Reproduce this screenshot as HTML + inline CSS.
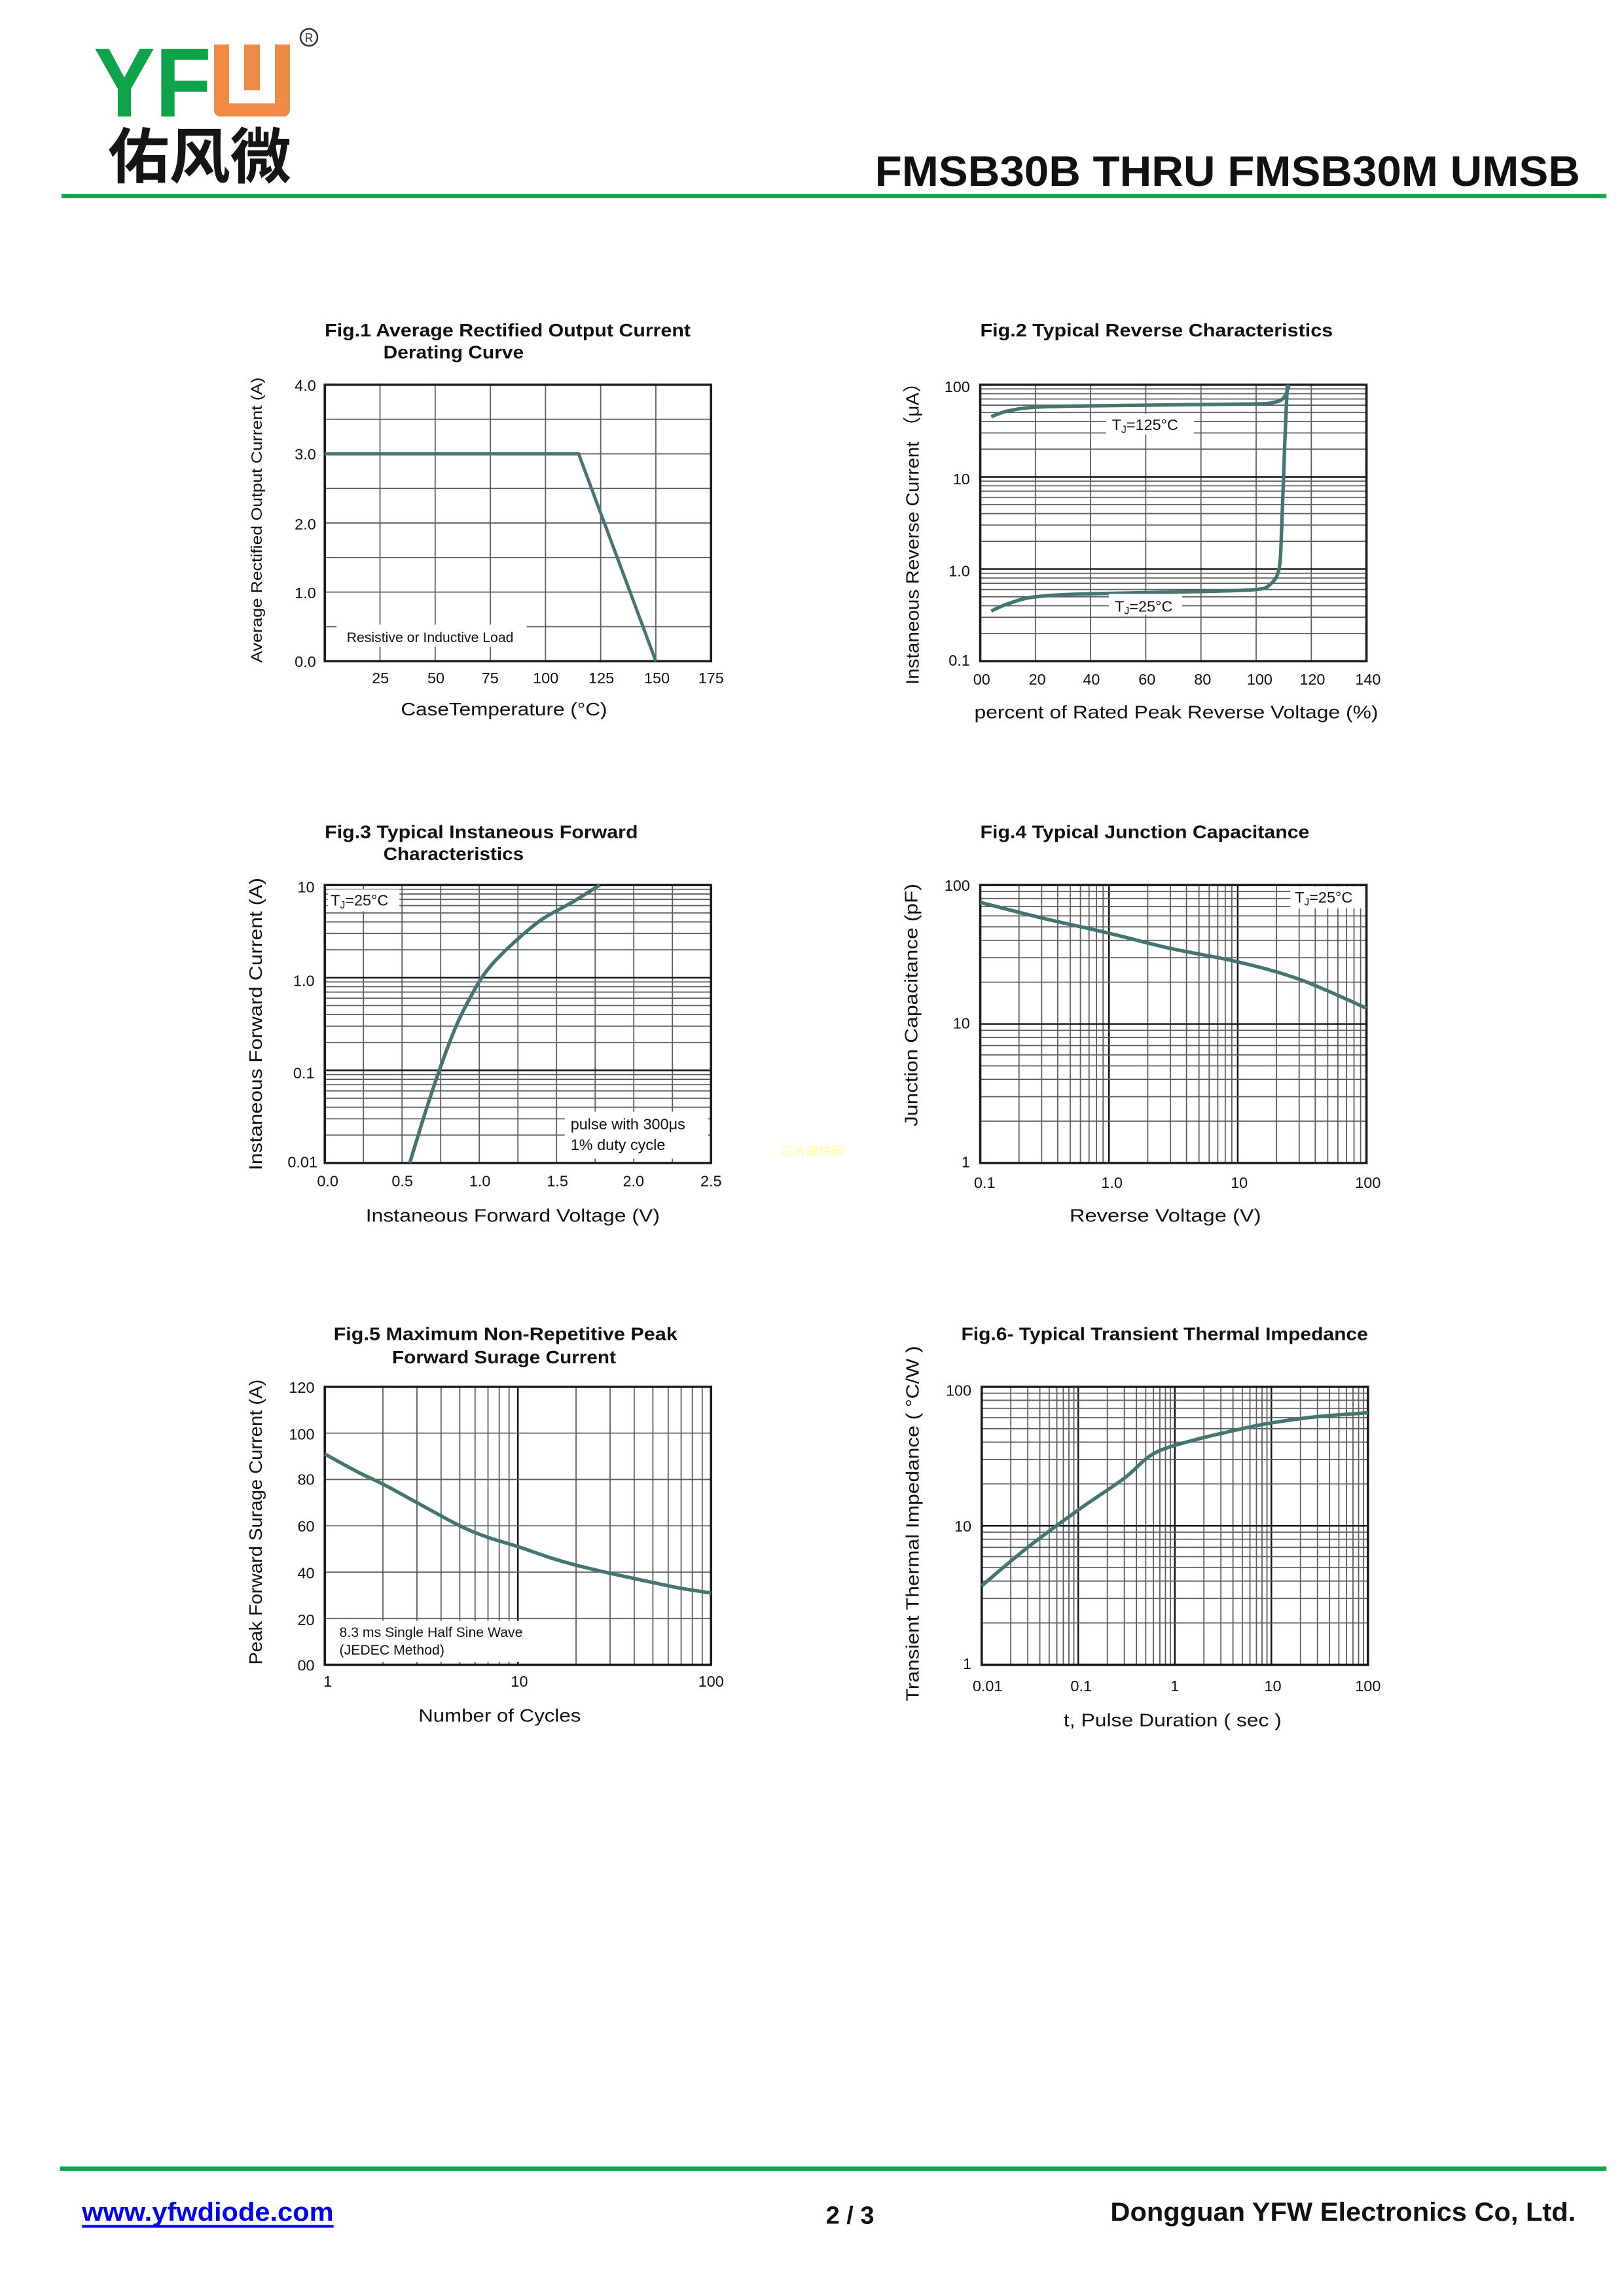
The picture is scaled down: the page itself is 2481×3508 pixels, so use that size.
<!DOCTYPE html>
<html><head><meta charset="utf-8">
<style>
html,body{margin:0;padding:0;background:#fff;}
svg{display:block;}
text{font-family:"Liberation Sans","Noto Sans CJK SC",sans-serif;fill:#111;}
</style></head>
<body>
<svg id="s" xmlns="http://www.w3.org/2000/svg" width="2481" height="3508" viewBox="0 0 2481 3508">
<rect width="2481" height="3508" fill="#fff"/>
<g>
 <text x="143" y="178" font-size="150" font-weight="bold" fill="#0ea34b" style="fill:#0ea34b" textLength="180" lengthAdjust="spacingAndGlyphs">YF</text>
 <rect x="327" y="68" width="116" height="110" rx="10" fill="#ee8a45"/>
 <rect x="327" y="68" width="116" height="12" fill="#ee8a45"/>
 <rect x="350" y="68" width="70" height="90" fill="#fff"/>
 <rect x="373" y="68" width="24" height="70" fill="#ee8a45"/>
 <text x="165" y="272" font-size="92" font-weight="bold" style="fill:#151515;font-family:'Noto Sans CJK SC','WenQuanYi Zen Hei',sans-serif" textLength="280" lengthAdjust="spacingAndGlyphs">佑风微</text>
 <circle cx="472" cy="57" r="13" fill="none" stroke="#333" stroke-width="2.5"/>
 <text x="472" y="64" font-size="18" text-anchor="middle" style="fill:#333">R</text>
</g>
<g transform="scale(2.2351)" id="g">
 <text x="1080" y="127" font-size="29" font-weight="bold" text-anchor="end" textLength="482" lengthAdjust="spacingAndGlyphs">FMSB30B THRU FMSB30M  UMSB</text>
 <rect x="42" y="132.5" width="1056" height="3" fill="#10a650"/>
 <rect x="41" y="1481" width="1057" height="3" fill="#10a650"/>
 <text x="56" y="1518" font-size="18" font-weight="bold" style="fill:#0000ee" textLength="172" lengthAdjust="spacingAndGlyphs">www.yfwdiode.com</text>
 <rect x="56" y="1521" width="172" height="1.8" fill="#0000ee"/>
 <text x="581" y="1520" font-size="17" font-weight="bold" text-anchor="middle">2 / 3</text>
 <text x="1077" y="1518" font-size="18" font-weight="bold" text-anchor="end" textLength="318" lengthAdjust="spacingAndGlyphs">Dongguan YFW Electronics Co, Ltd.</text>

 <g font-size="12.5" font-weight="bold">
  <text x="222" y="230" textLength="250" lengthAdjust="spacingAndGlyphs">Fig.1  Average Rectified Output Current</text>
  <text x="262" y="245" textLength="96" lengthAdjust="spacingAndGlyphs">Derating Curve</text>
  <text x="670" y="230" textLength="241" lengthAdjust="spacingAndGlyphs">Fig.2  Typical Reverse Characteristics</text>
  <text x="222" y="573" textLength="214" lengthAdjust="spacingAndGlyphs">Fig.3  Typical Instaneous Forward</text>
  <text x="262" y="588" textLength="96" lengthAdjust="spacingAndGlyphs">Characteristics</text>
  <text x="670" y="573" textLength="225" lengthAdjust="spacingAndGlyphs">Fig.4  Typical Junction Capacitance</text>
  <text x="228" y="916" textLength="235" lengthAdjust="spacingAndGlyphs">Fig.5  Maximum Non-Repetitive Peak</text>
  <text x="268" y="932" textLength="153" lengthAdjust="spacingAndGlyphs">Forward Surage Current</text>
  <text x="657" y="916" textLength="278" lengthAdjust="spacingAndGlyphs">Fig.6- Typical Transient Thermal Impedance</text>
 </g>
 <g id="grids"></g>
 <g font-size="10.5" text-anchor="end">
  <text x="216" y="267">4.0</text><text x="216" y="314">3.0</text><text x="216" y="362">2.0</text><text x="216" y="409">1.0</text><text x="216" y="456">0.0</text>
  <text x="663" y="268">100</text><text x="663" y="331">10</text><text x="663" y="394">1.0</text><text x="663" y="455">0.1</text>
  <text x="215" y="610">10</text><text x="215" y="674">1.0</text><text x="215" y="737">0.1</text><text x="217" y="798">0.01</text>
  <text x="663" y="609">100</text><text x="663" y="703">10</text><text x="663" y="798">1</text>
  <text x="215" y="952">120</text><text x="215" y="984">100</text><text x="215" y="1015">80</text><text x="215" y="1047">60</text><text x="215" y="1079">40</text><text x="215" y="1111">20</text><text x="215" y="1142">00</text>
  <text x="664" y="954">100</text><text x="664" y="1047">10</text><text x="664" y="1141">1</text>
 </g>
 <g font-size="10.5" text-anchor="middle">
  <text x="260" y="467">25</text><text x="298" y="467">50</text><text x="335" y="467">75</text><text x="373" y="467">100</text><text x="411" y="467">125</text><text x="449" y="467">150</text><text x="486" y="467">175</text>
  <text x="671" y="468">00</text><text x="709" y="468">20</text><text x="746" y="468">40</text><text x="784" y="468">60</text><text x="822" y="468">80</text><text x="861" y="468">100</text><text x="897" y="468">120</text><text x="935" y="468">140</text>
  <text x="224" y="811">0.0</text><text x="275" y="811">0.5</text><text x="328" y="811">1.0</text><text x="381" y="811">1.5</text><text x="433" y="811">2.0</text><text x="486" y="811">2.5</text>
  <text x="673" y="812">0.1</text><text x="760" y="812">1.0</text><text x="847" y="812">10</text><text x="935" y="812">100</text>
  <text x="224" y="1153">1</text><text x="355" y="1153">10</text><text x="486" y="1153">100</text>
  <text x="675" y="1156">0.01</text><text x="739" y="1156">0.1</text><text x="803" y="1156">1</text><text x="870" y="1156">10</text><text x="935" y="1156">100</text>
 </g>
 <g font-size="12.5">
  <text x="274" y="489" textLength="141" lengthAdjust="spacingAndGlyphs">CaseTemperature (°C)</text>
  <text x="666" y="491" textLength="276" lengthAdjust="spacingAndGlyphs">percent of Rated  Peak Reverse Voltage (%)</text>
  <text x="250" y="835" textLength="201" lengthAdjust="spacingAndGlyphs">Instaneous Forward Voltage (V)</text>
  <text x="731" y="835" textLength="131" lengthAdjust="spacingAndGlyphs">Reverse  Voltage (V)</text>
  <text x="286" y="1177" textLength="111" lengthAdjust="spacingAndGlyphs">Number of Cycles</text>
  <text x="727" y="1180" textLength="149" lengthAdjust="spacingAndGlyphs">t, Pulse Duration ( sec )</text>
  <text transform="translate(179,453) rotate(-90)" font-size="10.5" textLength="195" lengthAdjust="spacingAndGlyphs">Average Rectified Output Current (A)</text>
  <text transform="translate(628,468) rotate(-90)" textLength="213" lengthAdjust="spacingAndGlyphs">Instaneous Reverse Current （μA）</text>
  <text transform="translate(179,800) rotate(-90)" textLength="200" lengthAdjust="spacingAndGlyphs">Instaneous Forward Current (A)</text>
  <text transform="translate(627,770) rotate(-90)" textLength="166" lengthAdjust="spacingAndGlyphs">Junction Capacitance (pF)</text>
  <text transform="translate(179,1138) rotate(-90)" textLength="195" lengthAdjust="spacingAndGlyphs">Peak Forward Surage Current (A)</text>
  <text transform="translate(628,1163) rotate(-90)" textLength="243" lengthAdjust="spacingAndGlyphs">Transient Thermal Impedance ( °C/W )</text>
 </g>
 <g id="curves"></g>
 <g font-size="10.5">
  <rect x="230" y="427" width="130" height="15" fill="#fff"/>
  <text x="237" y="439" font-size="9.5">Resistive or Inductive Load</text>
  <rect x="756" y="283" width="60" height="14" fill="#fff"/>
  <text x="760" y="294">T<tspan font-size="7" dy="2">J</tspan><tspan dy="-2">=125°C</tspan></text>
  <rect x="758" y="406" width="50" height="14" fill="#fff"/>
  <text x="762" y="418">T<tspan font-size="7" dy="2">J</tspan><tspan dy="-2">=25°C</tspan></text>
  <rect x="224" y="608" width="49" height="15" fill="#fff"/>
  <text x="226" y="619">T<tspan font-size="7" dy="2">J</tspan><tspan dy="-2">=25°C</tspan></text>
  <rect x="386" y="760" width="98" height="32" fill="#fff"/>
  <text x="390" y="772">pulse with 300μs</text>
  <text x="390" y="786">1% duty cycle</text>
  <text x="534" y="790" font-size="8.5" style="fill:#ffff99">芯片模块网</text>
  <rect x="882" y="606" width="51" height="15" fill="#fff"/>
  <text x="885" y="617">T<tspan font-size="7" dy="2">J</tspan><tspan dy="-2">=25°C</tspan></text>
  <rect x="226" y="1108" width="145" height="28" fill="#fff"/>
  <text x="232" y="1119" font-size="9.5">8.3 ms Single Half Sine Wave</text>
  <text x="232" y="1131" font-size="9.5">(JEDEC Method)</text>
 </g>
</g>
</svg>
<script>
var NS="http://www.w3.org/2000/svg";
var G=document.getElementById("grids"),C=document.getElementById("curves");
function ln(p,x1,y1,x2,y2,w,c){var l=document.createElementNS(NS,"line");l.setAttribute("x1",x1);l.setAttribute("y1",y1);l.setAttribute("x2",x2);l.setAttribute("y2",y2);l.setAttribute("stroke",c);l.setAttribute("stroke-width",w);p.appendChild(l);}
function box(x0,y0,x1,y1){var r=document.createElementNS(NS,"rect");r.setAttribute("x",x0);r.setAttribute("y",y0);r.setAttribute("width",x1-x0);r.setAttribute("height",y1-y0);r.setAttribute("fill","none");r.setAttribute("stroke","#1a1a1a");r.setAttribute("stroke-width","1.6");G.appendChild(r);}
var minor="#5a5f5e",major="#111";
function linX(B,n){for(var i=1;i<n;i++){var x=B[0]+(B[2]-B[0])*i/n;ln(G,x,B[1],x,B[3],0.8,minor);}}
function linY(B,n){for(var i=1;i<n;i++){var y=B[1]+(B[3]-B[1])*i/n;ln(G,B[0],y,B[2],y,0.8,minor);}}
function logX(B,dec){var w=(B[2]-B[0])/dec;for(var d=0;d<dec;d++)for(var k=1;k<=9;k++){var x=B[0]+(d+Math.log10(k))*w;if(d==0&&k==1)continue;ln(G,x,B[1],x,B[3],k==1?1.1:0.8,k==1?major:minor);}}
function logY(B,dec){var h=(B[3]-B[1])/dec;for(var d=0;d<dec;d++)for(var k=1;k<=9;k++){var y=B[3]-(d+Math.log10(k))*h;if(d==0&&k==1)continue;ln(G,B[0],y,B[2],y,k==1?1.1:0.8,k==1?major:minor);}}
var F1=[222,263,486,452],F2=[670,263,934,452],F3=[222,605,486,795],F4=[670,605,934,795],F5=[222,948,486,1138],F6=[671,948,935,1138];
linX(F1,7);linY(F1,8);
linX(F2,7);logY(F2,3);
linX(F3,10);logY(F3,3);
logX(F4,3);logY(F4,2);
logX(F5,2);linY(F5,6);
logX(F6,4);logY(F6,2);
[F1,F2,F3,F4,F5,F6].forEach(function(b){box(b[0],b[1],b[2],b[3]);});
function path(pts){var d="M"+pts[0][0].toFixed(2)+","+pts[0][1].toFixed(2);
 for(var i=0;i<pts.length-1;i++){var p0=pts[i-1]||pts[i],p1=pts[i],p2=pts[i+1],p3=pts[i+2]||p2;
 var c1=[p1[0]+(p2[0]-p0[0])/6,p1[1]+(p2[1]-p0[1])/6],c2=[p2[0]-(p3[0]-p1[0])/6,p2[1]-(p3[1]-p1[1])/6];
 d+=" C"+c1[0].toFixed(2)+","+c1[1].toFixed(2)+" "+c2[0].toFixed(2)+","+c2[1].toFixed(2)+" "+p2[0].toFixed(2)+","+p2[1].toFixed(2);}
 var e=document.createElementNS(NS,"path");e.setAttribute("d",d);e.setAttribute("fill","none");e.setAttribute("stroke","#457570");e.setAttribute("stroke-width","2.4");e.setAttribute("stroke-linejoin","round");C.appendChild(e);}
function mk(B,fx,fy){return function(a){return a.map(function(p){return [B[0]+fx(p[0])*(B[2]-B[0]),B[3]-fy(p[1])*(B[3]-B[1])];});};}
function lin(a,b){return function(v){return (v-a)/(b-a);};}
function lg(a,b){return function(v){return (Math.log10(v)-Math.log10(a))/(Math.log10(b)-Math.log10(a));};}
var m1=mk(F1,lin(0,175),lin(0,4));
(function(){var p=m1([[0,3],[115,3],[150,0]]);var e=document.createElementNS(NS,"polyline");e.setAttribute("points",p.map(function(q){return q.join(",");}).join(" "));e.setAttribute("fill","none");e.setAttribute("stroke","#457570");e.setAttribute("stroke-width","2.2");C.appendChild(e);})();
var m2=mk(F2,lin(0,140),lg(0.1,100));
path(m2([[4,45],[10,52],[20,57],[40,59],[80,61],[100,62],[106,64],[110,72],[112,100]]));
path(m2([[4,0.35],[10,0.42],[20,0.5],[40,0.54],[80,0.57],[100,0.6],[105,0.68],[108.3,1.0],[109.3,3],[110.3,20],[111.3,100]]));
var m3=mk(F3,lin(0,2.5),lg(0.01,10));
path(m3([[0.55,0.01],[0.65,0.035],[0.75,0.11],[0.85,0.3],[0.95,0.65],[1.05,1.2],[1.2,2.2],[1.4,4.2],[1.6,6.5],[1.78,10]]));
var m4=mk(F4,lg(0.1,100),lg(1,100));
path(m4([[0.1,75],[0.3,58],[1,45],[3,35],[10,28],[30,21],[100,13]]));
var m5=mk(F5,lg(1,100),lin(0,120));
path(m5([[1,91],[1.5,83],[2,78],[3,70],[5,60],[7,55],[10,51],[15,46],[20,43],[30,39.5],[50,35.5],[70,33],[100,31]]));
var m6=mk(F6,lg(0.01,100),lg(1,100));
path(m6([[0.01,3.7],[0.03,7],[0.1,13],[0.3,22],[0.6,33],[1.5,41],[5,50],[10,55],[30,61],[100,65]]));
</script>
</body></html>
